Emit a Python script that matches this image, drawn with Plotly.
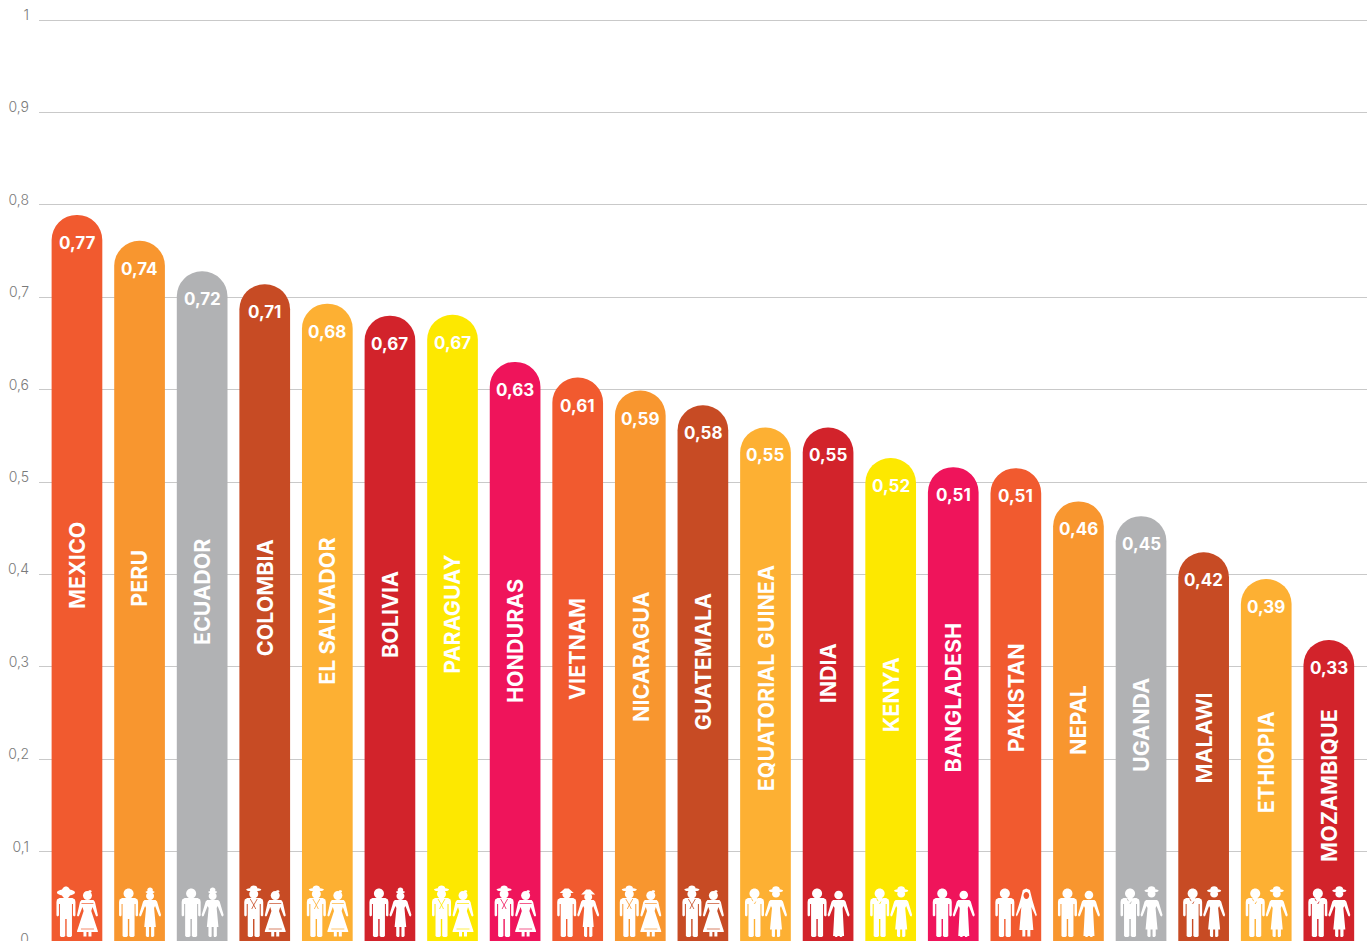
import plotly.graph_objects as go

countries = ["MEXICO","PERU","ECUADOR","COLOMBIA","EL SALVADOR","BOLIVIA","PARAGUAY","HONDURAS","VIETNAM","NICARAGUA","GUATEMALA","EQUATORIAL GUINEA","INDIA","KENYA","BANGLADESH","PAKISTAN","NEPAL","UGANDA","MALAWI","ETHIOPIA","MOZAMBIQUE"]
heights = [0.789,0.761,0.728,0.714,0.693,0.680,0.681,0.630,0.613,0.599,0.583,0.559,0.559,0.526,0.516,0.515,0.479,0.463,0.424,0.395,0.329]
value_labels = ["0,77","0,74","0,72","0,71","0,68","0,67","0,67","0,63","0,61","0,59","0,58","0,55","0,55","0,52","0,51","0,51","0,46","0,45","0,42","0,39","0,33"]
name_levels = [0.410,0.396,0.381,0.375,0.360,0.357,0.357,0.328,0.319,0.311,0.306,0.288,0.293,0.270,0.267,0.267,0.243,0.237,0.223,0.197,0.172]
colors = ["#F15A2F","#F8962F","#B1B2B4","#C74B24","#FDB033","#D2232B","#FDE800","#EF145B","#F15A2F","#F8962F","#C74B24","#FDB033","#D2232B","#FDE800","#EF145B","#F15A2F","#F8962F","#B1B2B4","#C74B24","#FDB033","#D2232B"]
men = ["sombrero","plain","plain","scarf","scarf","plain","scarf","scarf","conical","scarf","scarf","necklace","plain","necklace","plain","plain","plain","necklace","necklace","necklace","necklace"]
women = ["folk","hat","hat","folk","folk","hat","folk","folk","conical","folk","folk","wide","sari","wide","sari","veil","sari","wide","wide","wide","wide"]
tick_values = [0,0.1,0.2,0.3,0.4,0.5,0.6,0.7,0.8,0.9,1]
tick_text = ["0","0,1","0,2","0,3","0,4","0,5","0,6","0,7","0,8","0,9","1"]


def ell(cx, cy, rx, ry):
    k = 0.5523
    return (f"M{cx-rx},{cy} C{cx-rx},{cy+k*ry} {cx-k*rx},{cy+ry} {cx},{cy+ry} "
            f"C{cx+k*rx},{cy+ry} {cx+rx},{cy+k*ry} {cx+rx},{cy} "
            f"C{cx+rx},{cy-k*ry} {cx+k*rx},{cy-ry} {cx},{cy-ry} "
            f"C{cx-k*rx},{cy-ry} {cx-rx},{cy-k*ry} {cx-rx},{cy} Z")


def poly(points):
    return "M" + " L".join(f"{x},{y}" for x, y in points) + " Z"


def man_parts(c, style):
    body = poly([(c-6.5,46),(c+6.5,46),(c+9,44.5),(c+9.5,42),(c+9.5,28.5),(c+8.3,27.5),(c+7,28.5),(c+7,40),(c+6,40),
                 (c+6,8),(c+4.8,7),(c+2,7),(c+0.7,8),(c+0.7,25),(c-0.7,25),(c-0.7,8),(c-2,7),(c-4.8,7),(c-6,8),
                 (c-6,40),(c-7,40),(c-7,28.5),(c-8.3,27.5),(c-9.5,28.5),(c-9.5,42),(c-9,44.5)])
    if style == "sombrero":
        return [body, ell(c, 51.5, 9, 3.2), ell(c, 51.5, 4.5, 6)]
    if style == "scarf":
        return [body, ell(c, 50, 4.5, 4.5), ell(c, 54.3, 7.5, 1.6), ell(c, 56, 3.6, 2.4)]
    if style == "conical":
        return [body, ell(c, 49.5, 4.3, 4), poly([(c-7,51),(c+7,51),(c+2,55.5),(c-2,55.5)])]
    return [body, ell(c, 50.5, 5, 5)]


def dress(c, skirt_h, skirt_w):
    return poly([(c-5.5,44),(c+5.5,44),(c+7,42.5),(c+11,29),(c+10.2,27.5),(c+9,28),(c+5,38),(c+4,36),
                 (c+skirt_w,skirt_h),(c+4.2,skirt_h),(c+4.2,8),(c+3,7),(c+1.4,7),(c+1,8),(c+1,skirt_h),
                 (c-1,skirt_h),(c-1,8),(c-1.4,7),(c-3,7),(c-4.2,8),(c-4.2,skirt_h),(c-skirt_w,skirt_h),
                 (c-4,36),(c-5,38),(c-9,28),(c-10.2,27.5),(c-11,29),(c-7,42.5)])


def woman_parts(c, style):
    if style == "folk":
        body = poly([(c-6,44),(c+6,44),(c+7.5,42),(c+10.5,28.5),(c+9.5,27.5),(c+8.5,28),(c+5,37),(c+3.8,33),
                     (c+10.4,13),(c+10.4,12),(c+4,12),(c+4,7.5),(c+1,7.5),(c+1,12),(c-1,12),(c-1,7.5),(c-4,7.5),(c-4,12),
                     (c-10.4,12),(c-10.4,13),(c-3.8,33),(c-5,37),(c-8.5,28),(c-9.5,27.5),(c-10.5,28.5),(c-7.5,42)])
        return [body, ell(c, 48.5, 4.5, 4.5), ell(c+2.5, 52.5, 1.7, 1.2)]
    if style == "hat":
        return [dress(c, 17, 5.8), ell(c, 48, 4, 4), ell(c, 52, 4.5, 1.3), ell(c, 54, 2.8, 2.5)]
    if style == "conical":
        return [dress(c, 17, 5.5), ell(c, 47, 4, 4), poly([(c-7,49.5),(c+7,49.5),(c+2,54.5),(c-2,54.5)])]
    if style == "wide":
        return [dress(c, 14.5, 6), ell(c, 50, 4, 3.5), ell(c, 53.3, 7, 1.7), ell(c, 55, 3.8, 2.7)]
    if style == "sari":
        return [dress(c, 8, 5.5), ell(c, 49, 4.3, 4.3)]
    return [poly([(c-3.5,54),(c,55.5),(c+3.5,54),(c+6,44),(c+10.5,29),(c+9.5,27.5),(c+5,37),(c+7,14),(c+4,14),(c+4,7.5),
                  (c+1,7.5),(c+1,14),(c-1,14),(c-1,7.5),(c-4,7.5),(c-4,14),(c-7,14),(c-5,37),(c-9.5,27.5),(c-10.5,29),(c-6,44)])]


BASE_FONT = "Inter, 'Liberation Sans', Arial, sans-serif"
fig = go.Figure(go.Bar(x=countries, y=heights, marker=dict(color=colors, line=dict(width=0)), hoverinfo="skip"))

shapes = []
annotations = []
for name, h, lab, lvl, col, m, w in zip(countries, heights, value_labels, name_levels, colors, men, women):
    common = dict(type="path", xref="x", yref="y", xsizemode="pixel", ysizemode="pixel", xanchor=name, yanchor=0, layer="above")
    for part in man_parts(-11, m) + woman_parts(10.5, w):
        shapes.append(dict(path=part, fillcolor="white", line=dict(width=0), **common))
    if m == "scarf":
        shapes.append(dict(path="M-14.5,45 L-11,39 L-7.5,45 M-11,39 L-13,35 M-11,39 L-9,35", line=dict(color=col, width=0.8), **common))
    if m == "necklace":
        shapes.append(dict(path="M-14,45.5 L-11,40 L-8,45.5", line=dict(color=col, width=0.8, dash="dot"), **common))
    if w == "folk":
        shapes.append(dict(path="M4.5,40.5 L16.5,40.5 M4,15 L17,15", line=dict(color=col, width=0.7), **common))
    if w == "veil":
        shapes.append(dict(path=ell(10.5, 48.5, 2.8, 3.4), fillcolor=col, line=dict(width=0), **common))
    annotations.append(dict(x=name, y=h, yshift=-28, text=lab, showarrow=False, xanchor="center", yanchor="middle",
                            font=dict(family=BASE_FONT, size=17, color="white", weight=700)))
    annotations.append(dict(x=name, y=lvl, text=name, textangle=-90, showarrow=False, xanchor="center", yanchor="middle",
                            font=dict(family=BASE_FONT, size=21.5, color="white", weight=700)))

fig.update_layout(
    width=1368, height=965,
    margin=dict(l=39, r=1, t=17.3, b=21.2),
    paper_bgcolor="white", plot_bgcolor="white",
    bargap=0.19, barcornerradius=25.4,
    separators=",.",
    showlegend=False,
    shapes=shapes, annotations=annotations,
    xaxis=dict(range=[-0.6065, 20.61], showticklabels=False, showgrid=False, zeroline=False, ticks="",
               categoryorder="array", categoryarray=countries, fixedrange=True),
    yaxis=dict(range=[0, 1.00325], tickvals=tick_values, ticktext=tick_text, showgrid=True, gridcolor="#C9C9C9", gridwidth=1,
               zeroline=False, showline=False, ticks="", ticklabelstandoff=9, ticklabelshift=-5,
               tickfont=dict(family=BASE_FONT, size=14, color="#7A7A7A", weight=300), fixedrange=True),
)
fig.write_html("out.html", config={"displayModeBar": False},
               post_script="document.body.style.margin='0';document.documentElement.style.overflow='hidden';document.body.style.overflow='hidden';")
